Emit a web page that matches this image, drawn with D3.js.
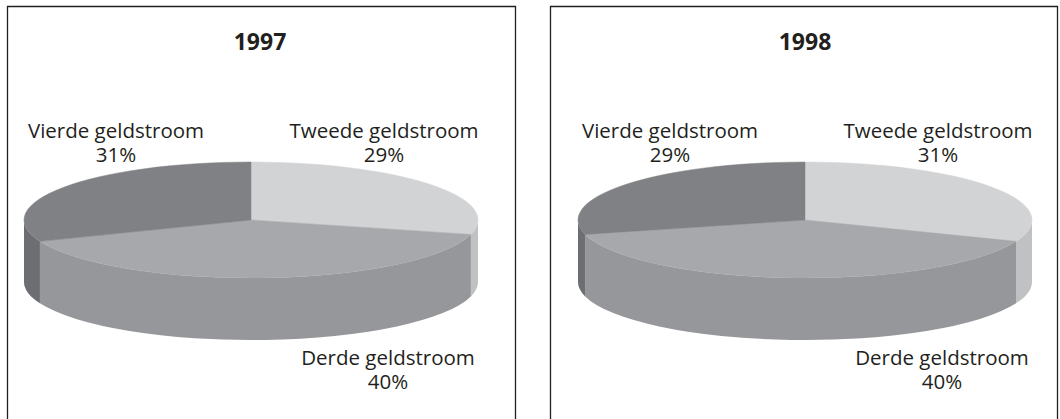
<!DOCTYPE html>
<html>
<head>
<meta charset="utf-8">
<script src="https://cdn.jsdelivr.net/npm/d3@7"></script>
<style>
  body { margin: 0; background: #fff; }
  text { font-family: "Open Sans", sans-serif; fill: #231f20; }
</style>
</head>
<body>
<div id="vis"></div>
<script>
const FRAME_WIDTH = 1060;
const FRAME_HEIGHT = 419;

// data
const categories = ["Tweede geldstroom", "Derde geldstroom", "Vierde geldstroom"];
const years = ["1997", "1998"];
const values1997 = [29, 40, 31];
const values1998 = [31, 40, 29];
const seriesValues = [values1997, values1998];

const TOP_COLORS = ["#d2d3d5", "#a7a8ab", "#808185"];
const SIDE_COLORS = ["#c0c1c3", "#96979a", "#6d6e71"];

// panel layout
const PANELS = [
  { x: 7.5, y: 6.5, w: 508, cx: 251, titleX: 260 },
  { x: 550.5, y: 6.5, w: 507, cx: 805, titleX: 805 }
];
const PIE_CY = 220;
const RX = 227;
const RY = 58;
const DEPTH = 62;

// label anchors relative to pie centre, per category
const LABEL_OFFSETS = [
  { dx: 133, dy: -82 },
  { dx: 137, dy: 145 },
  { dx: -135, dy: -82 }
];

const svg = d3.select("#vis")
  .append("svg")
  .attr("width", FRAME_WIDTH)
  .attr("height", FRAME_HEIGHT);

const pie = d3.pie().sort(null).value((d) => d);

// point on the projected ellipse, angle clockwise from 12 o'clock
const pt = (a, dy = 0) => [RX * Math.sin(a), -RY * Math.cos(a) + dy];

function topPath(a0, a1) {
  const p0 = pt(a0), p1 = pt(a1);
  const large = (a1 - a0) > Math.PI ? 1 : 0;
  return `M0,0L${p0}A${RX},${RY} 0 ${large} 1 ${p1}Z`;
}

function sidePath(a0, a1) {
  const s0 = Math.max(a0, Math.PI / 2);
  const s1 = Math.min(a1, Math.PI * 1.5);
  if (s1 <= s0) return null;
  const p0 = pt(s0), p1 = pt(s1);
  const q0 = pt(s0, DEPTH), q1 = pt(s1, DEPTH);
  return `M${p0}A${RX},${RY} 0 0 1 ${p1}L${q1}A${RX},${RY} 0 0 0 ${q0}Z`;
}

PANELS.forEach((panel, i) => {
  const g = svg.append("g");

  // frame (open at the bottom)
  g.append("path")
    .attr("d", `M${panel.x},${FRAME_HEIGHT + 2}V${panel.y}H${panel.x + panel.w}V${FRAME_HEIGHT + 2}`)
    .attr("fill", "none")
    .attr("stroke", "#231f20")
    .attr("stroke-width", 1.3);

  g.append("text")
    .attr("x", panel.titleX)
    .attr("y", 50)
    .attr("text-anchor", "middle")
    .attr("font-size", "23px")
    .attr("font-weight", "bold")
    .text(years[i]);

  const arcs = pie(seriesValues[i]);
  const pieG = g.append("g")
    .attr("transform", `translate(${panel.cx},${PIE_CY})`);

  pieG.selectAll("path.side")
    .data(arcs.filter((d) => sidePath(d.startAngle, d.endAngle)))
    .enter()
    .append("path")
    .attr("class", "side")
    .attr("d", (d) => sidePath(d.startAngle, d.endAngle))
    .attr("fill", (d) => SIDE_COLORS[d.index]);

  pieG.selectAll("path.top")
    .data(arcs)
    .enter()
    .append("path")
    .attr("class", "top")
    .attr("d", (d) => topPath(d.startAngle, d.endAngle))
    .attr("fill", (d) => TOP_COLORS[d.index])
    .attr("stroke", (d) => TOP_COLORS[d.index])
    .attr("stroke-width", 0.5);

  const labels = pieG.selectAll("text.label")
    .data(arcs)
    .enter()
    .append("text")
    .attr("class", "label")
    .attr("text-anchor", "middle")
    .attr("font-size", "20.5px")
    .attr("transform", (d) => `translate(${LABEL_OFFSETS[d.index].dx},${LABEL_OFFSETS[d.index].dy})`);

  labels.append("tspan")
    .attr("x", 0)
    .attr("y", 0)
    .text((d) => categories[d.index]);

  labels.append("tspan")
    .attr("x", 0)
    .attr("y", 24)
    .text((d) => d.data + "%");
});
</script>
</body>
</html>
